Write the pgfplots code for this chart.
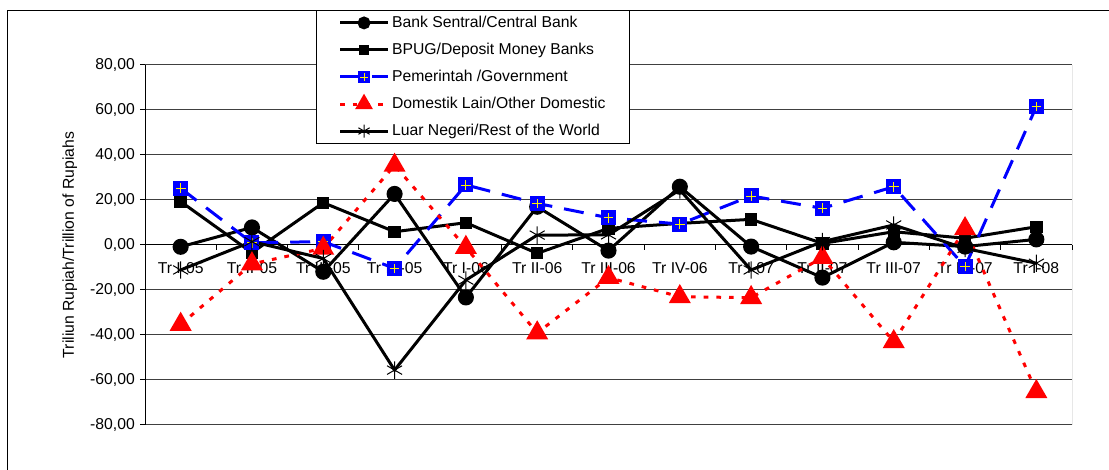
\documentclass[border=0pt]{standalone}
\usepackage{pgfplots}
\pgfplotsset{compat=1.18}
\usepackage{fontspec}
\setmainfont{Liberation Sans}

% blue square with a yellow cross, as in the spreadsheet
\pgfdeclareplotmark{sqplus}{%
  \pgfsetdash{}{0pt}%
  \pgfpathrectangle{\pgfpoint{-\pgfplotmarksize}{-\pgfplotmarksize}}{\pgfpoint{2\pgfplotmarksize}{2\pgfplotmarksize}}%
  \pgfsetfillcolor{blue}\pgfusepathqfill
  \pgfsetstrokecolor{yellow}\pgfsetlinewidth{0.6pt}%
  \pgfpathmoveto{\pgfpoint{-0.65\pgfplotmarksize}{0pt}}\pgfpathlineto{\pgfpoint{0.65\pgfplotmarksize}{0pt}}%
  \pgfpathmoveto{\pgfpoint{0pt}{-0.65\pgfplotmarksize}}\pgfpathlineto{\pgfpoint{0pt}{0.65\pgfplotmarksize}}%
  \pgfusepathqstroke}

\begin{document}
\fontsize{11.8}{14}\selectfont
\begin{tikzpicture}[x=1pt,y=1pt]
\useasboundingbox (0,0) rectangle (831.75,352.5);
\draw[line width=0.75pt] (831.75,344.25) -- (5.25,344.25) -- (5.25,0);
\begin{axis}[
  at={(108.75pt,33.75pt)}, anchor=south west,
  scale only axis, width=695.25pt, height=270pt,
  xmin=-0.5, xmax=12.5, ymin=-80, ymax=80,
  axis x line=middle, axis y line=left,
  axis line style={-, line width=0.75pt, black},
  hide obscured x ticks=false, hide obscured y ticks=false,
  tick align=outside,
  xtick={0,...,12},
  xticklabels={Tr I-05,Tr II-05,Tr III-05,Tr IV-05,Tr I-06,Tr II-06,Tr III-06,Tr IV-06,Tr I-07,Tr II-07,Tr III-07,Tr IV-07,Tr I-08},
  major x tick style={draw=none},
  minor xtick={-0.5,0.5,...,12.5},
  minor x tick style={black, line width=0.75pt},
  minor tick length=3.5pt,
  major tick length=3.5pt,
  xticklabel style={anchor=north, yshift=-8.5pt, inner sep=1pt},
  ytick={-80,-60,...,80},
  y tick style={black, line width=0.75pt},
  yticklabel style={/pgf/number format/.cd, fixed, fixed zerofill, precision=2, use comma, 1000 sep={}, assume math mode=true},
  ymajorgrids,
  grid style={black!75, line width=0.75pt},
  ylabel={Triliun Rupiah/Trillion of Rupiahs},
  ylabel style={at={(axis description cs:-0.081,0.5)}, anchor=center, rotate=0},
  legend style={at={(axis description cs:0.1845,1.153)}, anchor=north west,
    draw=black, line width=0.75pt, fill=white, inner xsep=16.5pt, inner ysep=2pt,
    row sep=5.5pt, nodes={inner xsep=1.9pt, inner ysep=2pt},
    cells={anchor=west, text height=9pt, text depth=3pt},
    font=\fontsize{11.8}{14}\selectfont},
  legend image code/.code={\draw[mark repeat=2,mark phase=2,every mark/.append style={scale=0.75}] plot coordinates {(0pt,0pt) (18pt,0pt) (36pt,0pt)};},
]
\draw[black!75, line width=0.75pt] (rel axis cs:1,0) -- (rel axis cs:1,1);

\addplot[black, line width=2.25pt, mark=*, mark size=4.9pt, mark options={solid}]
  coordinates {(0,-0.8) (1,7.8) (2,-11.9) (3,22.7) (4,-23.3) (5,17) (6,-2.5) (7,25.9) (8,-0.7) (9,-14.5) (10,1.2) (11,-0.7) (12,2.5)};
\addlegendentry{Bank Sentral/Central Bank}

\addplot[black, line width=2.25pt, mark=square*, mark size=3.5pt, mark options={solid}]
  coordinates {(0,19.3) (1,-3.4) (2,18.8) (3,5.9) (4,9.9) (5,-3.7) (6,7.4) (7,9.6) (8,11.4) (9,0.7) (10,5.9) (11,3.0) (12,8.1)};
\addlegendentry{BPUG/Deposit Money Banks}

\addplot[blue, line width=2.25pt, dash pattern=on 15pt off 9pt, mark=sqplus, mark size=5.6pt, mark options={solid}]
  coordinates {(0,25.2) (1,1.0) (2,1.5) (3,-10.4) (4,26.7) (5,18.5) (6,12.1) (7,9.3) (8,21.8) (9,16.3) (10,25.9) (11,-9.6) (12,61.5)};
\addlegendentry{Pemerintah /Government}

\addplot[red, line width=2.25pt, dash pattern=on 3.5pt off 6pt, mark=triangle*, mark size=7.3pt, mark options={solid}]
  coordinates {(0,-35.3) (1,-8.4) (2,-1.5) (3,35.4) (4,-1.1) (5,-39.1) (6,-14.5) (7,-23) (8,-23.4) (9,-5.6) (10,-43) (11,7.2) (12,-65.2)};
\addlegendentry{Domestik Lain/Other Domestic}

\addplot[black, line width=2.25pt, mark=asterisk, mark size=6.5pt, mark options={solid, line width=0.75pt}]
  coordinates {(0,-11.1) (1,1.5) (2,-6) (3,-55.6) (4,-15.6) (5,4.4) (6,4.5) (7,24.5) (8,-11.1) (9,1.5) (10,8.9) (11,-1.5) (12,-8.1)};
\addlegendentry{Luar Negeri/Rest of the World}
\end{axis}
\end{tikzpicture}
\end{document}
